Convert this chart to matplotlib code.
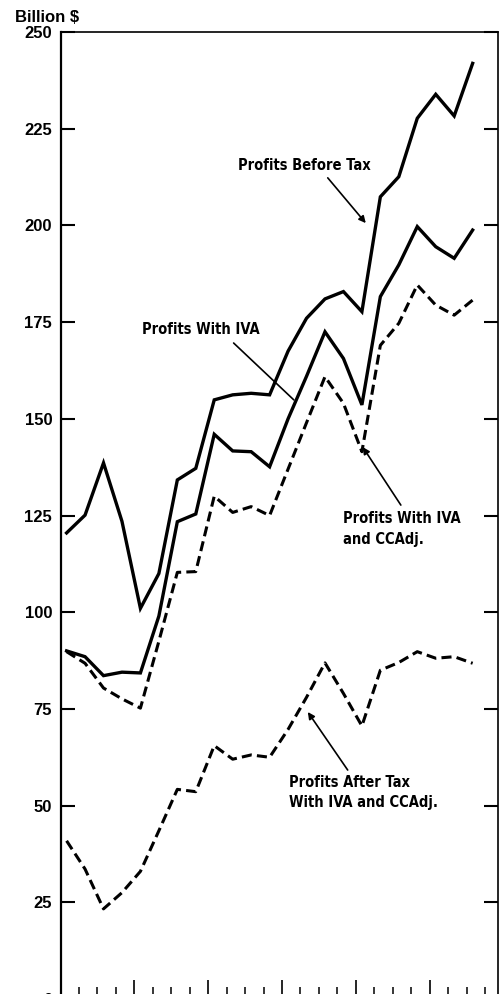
import numpy as np
import matplotlib
matplotlib.use('Agg')
import matplotlib.pyplot as plt
from matplotlib import font_manager
from matplotlib.ticker import MultipleLocator

# Quarterly corporate profits, 1974Q1 - 1979Q3 (billion $)
years = [1974] * 4 + [1975] * 4 + [1976] * 4 + [1977] * 4 + [1978] * 4 + [1979] * 3
quarters = [1, 2, 3, 4] * 5 + [1, 2, 3]

before_tax = [120.5, 125.1, 138.6, 123.5, 101.0, 110.0, 134.2, 137.2, 154.9, 156.2, 156.6, 156.2,
              167.5, 176.0, 181.0, 182.9, 177.7, 207.4, 212.6, 227.7, 233.9, 228.3, 241.9]
with_iva = [90.0, 88.5, 83.6, 84.5, 84.3, 99.0, 123.4, 125.4, 146.0, 141.7, 141.5, 137.6,
            150.0, 161.0, 172.5, 165.6, 153.6, 181.6, 189.8, 199.7, 194.5, 191.5, 198.8]
with_iva_ccadj = [89.8, 86.8, 80.4, 77.6, 75.2, 92.5, 110.3, 110.5, 130.0, 125.8, 127.3, 125.0,
                  137.0, 149.0, 160.9, 154.0, 141.5, 169.0, 174.7, 184.6, 179.4, 176.8, 180.7]
after_tax = [40.9, 33.6, 23.3, 27.5, 33.0, 43.5, 54.2, 53.6, 65.5, 62.0, 63.1, 62.5,
             69.7, 78.0, 86.9, 79.0, 70.6, 85.0, 87.0, 89.8, 88.1, 88.5, 86.8]

x = np.array(years) + (np.array(quarters) - 1 + 0.33) / 4.0

plain = ['Liberation Sans', 'DejaVu Sans']

# pick a condensed face if one is installed, else a smaller regular one
names = {f.name for f in font_manager.fontManager.ttflist}
cond_kw = None
if 'Liberation Sans Narrow' in names:
    cond_kw = dict(family=['Liberation Sans Narrow', 'DejaVu Sans'], fontsize=12)
else:
    fp = font_manager.FontProperties(family='DejaVu Sans', stretch='condensed', weight='bold')
    if 'Condensed' in font_manager.findfont(fp, fallback_to_default=False):
        cond_kw = dict(family=['DejaVu Sans'], fontstretch='condensed', fontsize=10.5)
if cond_kw is None:
    cond_kw = dict(family=plain, fontsize=10.5)

fig = plt.figure(figsize=(5.0, 9.94), dpi=100)
ax = fig.add_axes([0.121, -0.00503, 0.875, 0.9728])

ax.plot(x, before_tax, color='black', lw=2.4, solid_joinstyle='miter')
ax.plot(x, with_iva, color='black', lw=2.4, solid_joinstyle='miter')
ax.plot(x, with_iva_ccadj, color='black', lw=2.2, linestyle=(0, (3.3, 1.7)), dash_capstyle='butt')
ax.plot(x, after_tax, color='black', lw=2.2, linestyle=(0, (3.3, 1.7)), dash_capstyle='butt')

ax.set_xlim(1974.0, 1979.926)
ax.set_ylim(0, 250)

ax.yaxis.set_major_locator(MultipleLocator(25))
ax.xaxis.set_major_locator(MultipleLocator(1))
ax.xaxis.set_minor_locator(MultipleLocator(0.25))
ax.tick_params(axis='y', which='major', direction='in', length=10, width=1.5,
               left=True, right=True, labelleft=True, labelright=False, pad=6)
ax.tick_params(axis='x', which='major', direction='in', length=14, width=1.2, labelbottom=False)
ax.tick_params(axis='x', which='minor', direction='in', length=8.5, width=1.1)
for lab in ax.get_yticklabels():
    lab.set_family(plain)
    lab.set_fontsize(12)
    lab.set_fontweight('bold')

ax.spines['left'].set_linewidth(1.6)
ax.spines['top'].set_linewidth(1.2)
ax.spines['right'].set_linewidth(1.2)
ax.spines['bottom'].set_linewidth(1.2)

fig.text(0.03, 0.982, 'Billion $', family=plain, fontsize=12, fontweight='bold',
         ha='left', va='center')

tkw = dict(fontweight='bold', ha='left', va='center', linespacing=1.45, **cond_kw)
akw = dict(arrowstyle='-|>', color='black', lw=1.2, mutation_scale=10, shrinkA=0, shrinkB=0)

ax.text(1976.40, 215.6, 'Profits Before Tax', **tkw)
ax.annotate('', xy=(1978.135, 200.6), xytext=(1977.62, 212.3), arrowprops=akw)

ax.text(1975.11, 173.0, 'Profits With IVA', **tkw)
ax.annotate('', xy=(1977.16, 154.9), xytext=(1976.345, 169.6),
            arrowprops=dict(arrowstyle='-', color='black', lw=1.2, shrinkA=0, shrinkB=0))

ax.text(1977.82, 121.5, 'Profits With IVA\nand CCAdj.', **tkw)
ax.annotate('', xy=(1978.094, 142.7), xytext=(1978.61, 127.7), arrowprops=akw)

ax.text(1977.09, 53.4, 'Profits After Tax\nWith IVA and CCAdj.', **tkw)
ax.annotate('', xy=(1977.35, 74.2), xytext=(1977.89, 59.2), arrowprops=akw)

fig.savefig('out.png', dpi=100)
